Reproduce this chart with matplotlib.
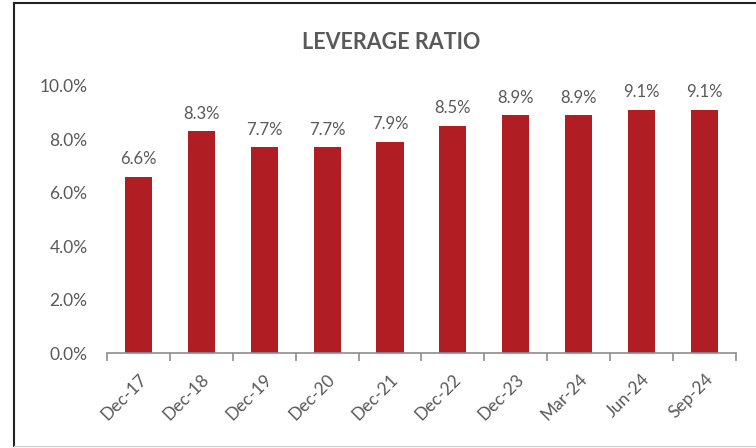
import matplotlib.pyplot as plt
from matplotlib.lines import Line2D

categories = ["Dec-17", "Dec-18", "Dec-19", "Dec-20", "Dec-21",
              "Dec-22", "Dec-23", "Mar-24", "Jun-24", "Sep-24"]
values = [6.6, 8.3, 7.7, 7.7, 7.9, 8.5, 8.9, 8.9, 9.1, 9.1]
yticks = [0, 2, 4, 6, 8, 10]

bar_color = "#B01E24"
text_color = "#595959"
axis_color = "#8C8C8C"

plt.rcParams['font.family'] = ['Lato', 'DejaVu Sans']

fig = plt.figure(figsize=(7.56, 4.48), dpi=100)
ax = fig.add_axes([0.1415, 0.212, 0.832, 0.597])

x = list(range(len(categories)))
ax.bar(x, values, width=0.43, color=bar_color)

for xi, v in zip(x, values):
    ax.text(xi, v + 0.35, f"{v:.1f}%", ha="center", va="bottom",
            fontsize=12, color=text_color)

ax.set_xlim(-0.5, len(categories) - 0.5)
ax.set_ylim(0, 10)
ax.set_yticks(yticks)
ax.set_yticklabels([f"{t:.1f}%" for t in yticks], fontsize=12.5, color=text_color)
ax.tick_params(axis="y", length=0, pad=14)

ax.set_xticks(x)
ax.set_xticklabels(categories, rotation=45, ha="right", rotation_mode="anchor",
                   fontsize=12.5, color=text_color)
ax.tick_params(axis="x", which="major", length=0, pad=13)
ax.set_xticks([i - 0.5 for i in range(len(categories) + 1)], minor=True)
ax.tick_params(axis="x", which="minor", length=6, color=axis_color, width=1.2)

for s in ["top", "right", "left"]:
    ax.spines[s].set_visible(False)
ax.spines["bottom"].set_color(axis_color)
ax.spines["bottom"].set_linewidth(1.2)

fig.text(0.5 + 0.017, 0.905, "LEVERAGE RATIO", ha="center", va="center",
         fontsize=15.5, fontweight="bold", color=text_color)

# frame around the chart
fig.add_artist(Line2D([14 / 756, 14 / 756], [2 / 448, 445 / 448], color="#222222", lw=1.5))
fig.add_artist(Line2D([14 / 756, 1.0], [445 / 448, 445 / 448], color="#222222", lw=1.5))
fig.add_artist(Line2D([14 / 756, 1.0], [2 / 448, 2 / 448], color="#D0D0D0", lw=1.0))

fig.savefig("out.png", dpi=100)
